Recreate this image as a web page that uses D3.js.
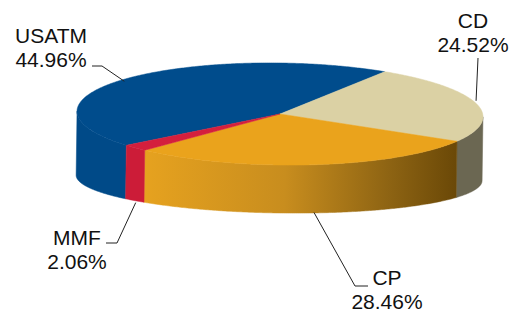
<!DOCTYPE html>
<html>
<head>
<meta charset="utf-8">
<script src="https://cdn.jsdelivr.net/npm/d3@7"></script>
<style>
  body { margin: 0; background: #fff; }
  #chart text { font-family: "Liberation Sans", Arial, sans-serif; font-size: 21px; fill: #111; }
</style>
</head>
<body>
<div id="chart"></div>
<script>
// data
const categories = ["USATM", "CD", "CP", "MMF"];
const shares = [44.96, 24.52, 28.46, 2.06];
const shareLabels = ["44.96%", "24.52%", "28.46%", "2.06%"];

const topColors = ["#004c8c", "#dbd1a4", "#eaa31c", "#d41f3d"];
const sideColors = ["#004a88", "#6b6752", "url(#cpSide)", "#cc1c38"];

// label layout (text centre x, first baseline) and elbow of the leader line
const labelPos = {
    USATM: {x: 51, y: 43, elbow: [[92, 66], [102, 66]]},
    CD:    {x: 473, y: 28, elbow: [[478, 58]]},
    MMF:   {x: 77, y: 245, elbow: [[106, 243], [117, 243]]},
    CP:    {x: 387, y: 285, elbow: [[368, 286], [355, 286]]}
}

var width = 510, height = 312;
var cx = 280, rx = 203,
    cyTop = 114, ryTop = 51,
    cyBot = 178, ryBot = 35;   // bottom face is flatter (perspective)
var rotation = 229 * Math.PI / 180;

var svg = d3.select("#chart")
    .append("svg")
    .attr("width", width)
    .attr("height", height);

// gradient for the front of the CP slice
var grad = svg.append("defs").append("linearGradient")
    .attr("id", "cpSide")
    .attr("gradientUnits", "userSpaceOnUse")
    .attr("x1", 145).attr("x2", 458).attr("y1", 0).attr("y2", 0);
[[0, "#e6a21f"], [0.45, "#c88d1e"], [0.78, "#8e6413"], [1, "#6a4807"]].forEach(function(s) {
    grad.append("stop").attr("offset", s[0]).attr("stop-color", s[1]);
});

var x = d3.scaleLinear().domain([-1, 1]).range([cx - rx, cx + rx]);
var yTop = d3.scaleLinear().domain([-1, 1]).range([cyTop - ryTop, cyTop + ryTop]);
var yBot = d3.scaleLinear().domain([-1, 1]).range([cyBot - ryBot, cyBot + ryBot]);

var pie = d3.pie()
    .sort(null)
    .value(function(d) { return d.value })
    .startAngle(rotation)
    .endAngle(rotation + 2 * Math.PI);

var slices = pie(categories.map(function(c, i) {
    return {name: c, value: shares[i], label: shareLabels[i], top: topColors[i], side: sideColors[i]}
}));

var line = d3.line();

function arcPts(a0, a1, ys) {
    var n = Math.max(2, Math.ceil((a1 - a0) / 0.01));
    return d3.range(n + 1).map(function(i) {
        var a = a0 + (a1 - a0) * i / n;
        return [x(Math.sin(a)), ys(-Math.cos(a))];
    });
}

var g = svg.append("g").attr("transform", "rotate(0.8," + cx + "," + cyTop + ")");

// front walls (only the part facing us: 90deg .. 270deg)
slices.forEach(function(d) {
    for (var k = -1; k <= 1; k++) {
        var lo = Math.max(d.startAngle, Math.PI / 2 + 2 * Math.PI * k);
        var hi = Math.min(d.endAngle, 3 * Math.PI / 2 + 2 * Math.PI * k);
        if (hi <= lo) continue;
        var pts = arcPts(lo, hi, yTop).concat(arcPts(lo, hi, yBot).reverse());
        g.append("path")
            .attr("d", line(pts) + "Z")
            .attr("fill", d.data.side)
            .attr("stroke", d.data.side)
            .attr("stroke-width", 0.5);
    }
});

// top faces
slices.forEach(function(d) {
    var pts = [[x(0), yTop(0)]].concat(arcPts(d.startAngle, d.endAngle, yTop));
    g.append("path")
        .attr("d", line(pts) + "Z")
        .attr("fill", d.data.top)
        .attr("stroke", d.data.top)
        .attr("stroke-width", 0.5);
});

// labels + leader lines
slices.forEach(function(d) {
    var mid = (d.startAngle + d.endAngle) / 2;
    var front = Math.cos(mid) < 0;
    var anchor = [x(Math.sin(mid)), (front ? yBot : yTop)(-Math.cos(mid))];
    var p = labelPos[d.data.name];
    svg.append("path")
        .attr("d", line(p.elbow.concat([anchor])))
        .attr("fill", "none")
        .attr("stroke", "#222")
        .attr("stroke-width", 1);
    var t = svg.append("text")
        .attr("text-anchor", "middle")
        .attr("x", p.x)
        .attr("y", p.y);
    t.append("tspan").attr("x", p.x).text(d.data.name);
    t.append("tspan").attr("x", p.x).attr("dy", 23.5).text(d.data.label);
});
</script>
</body>
</html>
